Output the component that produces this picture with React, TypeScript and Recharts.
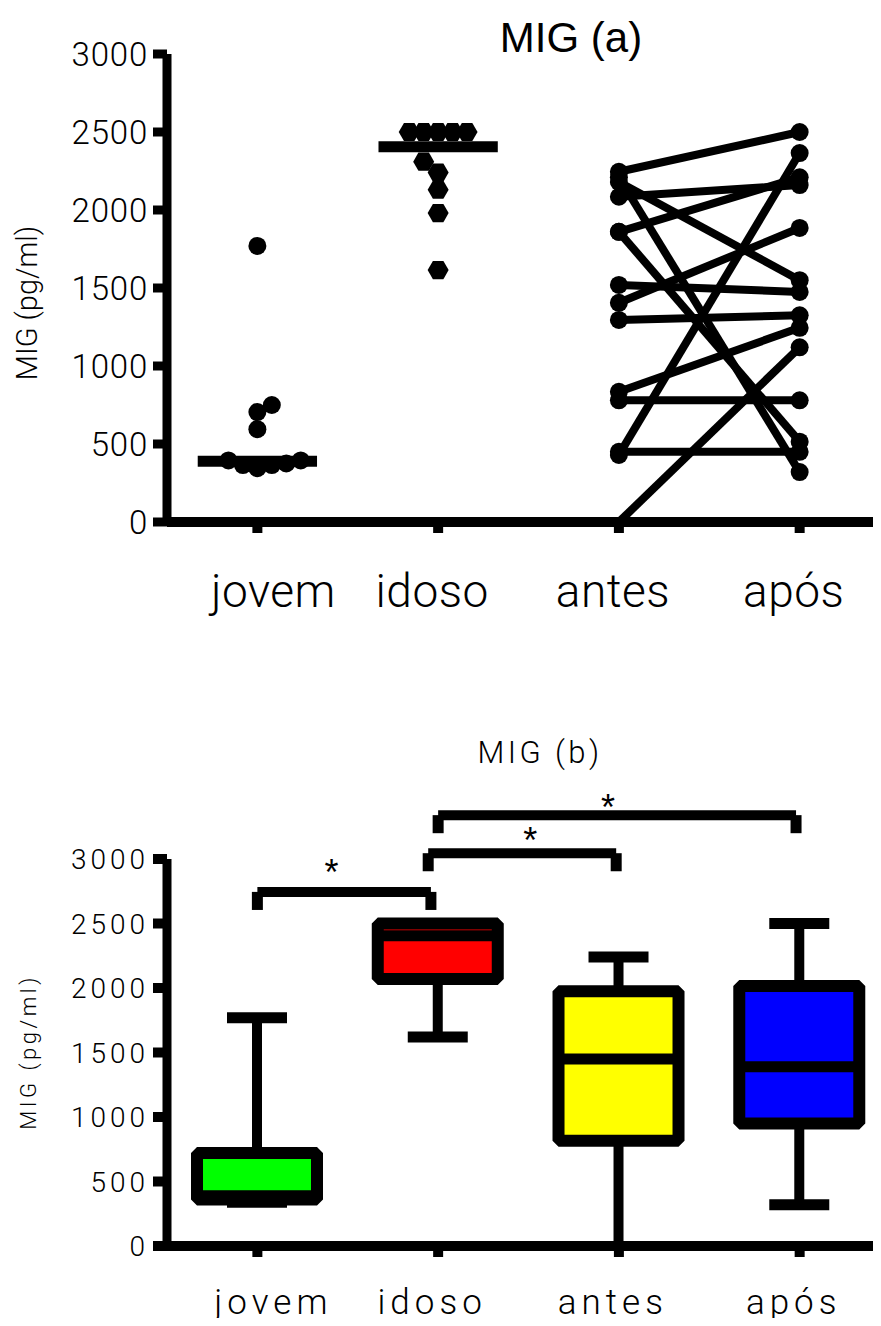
import {
  Bar,
  ComposedChart,
  ReferenceDot,
  ReferenceLine,
  Scatter,
  XAxis,
  YAxis,
} from "recharts";

const categories = ["jovem", "idoso", "antes", "após"];
const categoryX = [1, 2, 3, 4];
const yTicks = [0, 500, 1000, 1500, 2000, 2500, 3000];

// painel (a): pontos individuais
const jovemValues = [1770, 750, 705, 595, 395, 365, 345, 365, 375, 395];
const jovemSwarm = [0, 1, 0, 0, -2, -1, 0, 1, 2, 3];
const jovemMedian = 390;
const idosoValues = [2500, 2500, 2500, 2500, 2500, 2310, 2240, 2130, 1980, 1615];
const idosoSwarm = [-2, -1, 0, 1, 2, -1, 0, 0, 0, 0];
const idosoMedian = 2405;
// pares antes -> após
const antesValues = [2245, 2180, 2210, 2085, 1860, 1860, 1520, 1405, 1295, 835, 780, 450, 430, 0];
const aposValues = [2500, 1550, 320, 2160, 2210, 515, 1475, 1885, 1325, 1245, 780, 450, 2365, 1120];

// painel (b): box plots
const boxMin = [340, 1620, 0, 320];
const boxQ1 = [360, 2070, 815, 950];
const boxMedian = [390, 2405, 1450, 1390];
const boxQ3 = [720, 2500, 1975, 2015];
const boxMax = [1770, 2500, 2240, 2500];
const boxColors = ["#00ff00", "#ff0000", "#ffff00", "#0000ff"];

// comparações significativas
const bracketFrom = [1, 1.945, 2];
const bracketTo = [1.96, 2.985, 3.98];
const bracketLevel = [2745, 3045, 3340];
const bracketDrop = 140;
const starX = [1.41, 2.51, 2.94];
const starLevel = [2960, 3205, 3460];

const FONT = '"Liberation Sans", Arial, Helvetica, sans-serif';
const THIN = 'Roboto, "Liberation Sans", Arial, sans-serif';
const SWARM_STEP = 0.08;
const MEDIAN_HALF = 0.33;
const X_DOMAIN = [0.5, 4.45];
// the original labels sit a little off their ticks
const LABEL_NUDGE = [16, -6, -6, -6];

const jovemPoints = jovemValues.map((y, i) => ({ x: 1 + jovemSwarm[i] * SWARM_STEP, y }));
const idosoPoints = idosoValues.map((y, i) => ({ x: 2 + idosoSwarm[i] * SWARM_STEP, y }));
const pairs = antesValues.map((a, i) => [
  { x: 3, y: a },
  { x: 4, y: aposValues[i] },
]);

const boxData = categories.map((name, i) => ({
  name,
  x: categoryX[i],
  min: boxMin[i],
  q1: boxQ1[i],
  median: boxMedian[i],
  q3: boxQ3[i],
  max: boxMax[i],
  fill: boxColors[i],
}));

const CircleDot = (p: any) =>
  p.payload && p.payload.y <= 0 ? null : <circle cx={p.cx} cy={p.cy} r={9} fill="#000" />;

const HexDot = (p: any) => {
  const r = 10.5;
  const pts = [0, 1, 2, 3, 4, 5]
    .map((k) => {
      const a = (Math.PI / 3) * k;
      return `${p.cx + r * Math.cos(a)},${p.cy + r * Math.sin(a)}`;
    })
    .join(" ");
  return <polygon points={pts} fill="#000" />;
};

const BoxShape = (props: any) => {
  const { x, y, width, height, payload } = props;
  if (!payload) return null;
  const span = payload.max - payload.min;
  const py = (v: number) => y + (height * (payload.max - v)) / span;
  const cx = x + width / 2;
  const capHalf = width * 0.25;
  return (
    <g>
      <line x1={cx} x2={cx} y1={py(payload.max)} y2={py(payload.min)} stroke="#000" strokeWidth={10} />
      <line x1={cx - capHalf} x2={cx + capHalf} y1={py(payload.max)} y2={py(payload.max)} stroke="#000" strokeWidth={11} />
      {payload.min > 0 && (
        <line x1={cx - capHalf} x2={cx + capHalf} y1={py(payload.min)} y2={py(payload.min)} stroke="#000" strokeWidth={11} />
      )}
      <rect
        x={x}
        y={py(payload.q3)}
        width={width}
        height={py(payload.q1) - py(payload.q3)}
        fill={payload.fill}
        stroke="#000"
        strokeWidth={12}
        strokeLinejoin="bevel"
      />
      <line x1={x} x2={x + width} y1={py(payload.median)} y2={py(payload.median)} stroke="#000" strokeWidth={11} />
    </g>
  );
};

const makeYTick = (fontSize: number, spacing: number) => (p: any) => (
  <text
    x={p.x}
    y={p.y}
    dy={fontSize * 0.36}
    textAnchor="end"
    fontFamily={THIN}
    fontWeight={300}
    fontSize={fontSize}
    letterSpacing={spacing}
    fill="#000"
  >
    {p.payload.value}
  </text>
);

const makeXTick = (fontSize: number, spacing: number, dy: number) => (p: any) => {
  const i = categoryX.indexOf(p.payload.value);
  return (
    <text
      x={p.x + (LABEL_NUDGE[i] ?? 0)}
      y={p.y}
      dy={dy}
      textAnchor="middle"
      fontFamily={THIN}
      fontWeight={300}
      fontSize={fontSize}
      letterSpacing={spacing}
      fill="#000"
    >
      {categories[i] ?? ""}
    </text>
  );
};

const StarLabel = (p: any) => {
  const vb = p.viewBox || {};
  const cx = (vb.x ?? 0) + (vb.width ?? 0) / 2;
  const cy = (vb.y ?? 0) + (vb.height ?? 0) / 2;
  return (
    <text x={cx} y={cy} dy={36 * 0.57} textAnchor="middle" fontFamily={FONT} fontSize={36} fill="#000">
      *
    </text>
  );
};

function ChartA() {
  return (
    <ComposedChart width={881} height={660} margin={{ top: 54, right: 0, bottom: 38, left: 67 }}>
      <XAxis
        type="number"
        dataKey="x"
        domain={X_DOMAIN}
        ticks={categoryX}
        interval={0}
        height={100}
        axisLine={{ stroke: "#000", strokeWidth: 10 }}
        tickLine={{ stroke: "#000", strokeWidth: 10 }}
        tickSize={11}
        tickMargin={0}
        tick={makeXTick(46, 0.5, 74)}
      />
      <YAxis
        type="number"
        dataKey="y"
        domain={[0, 3000]}
        ticks={yTicks}
        interval={0}
        width={100}
        axisLine={{ stroke: "#000", strokeWidth: 9 }}
        tickLine={{ stroke: "#000", strokeWidth: 9 }}
        tickSize={14}
        tickMargin={5}
        tick={makeYTick(33, 0.8)}
      />
      {pairs.map((pair, i) => (
        <Scatter
          key={`pair-${i}`}
          data={pair}
          line={{ stroke: "#000", strokeWidth: 8 }}
          shape={CircleDot}
          isAnimationActive={false}
        />
      ))}
      <Scatter data={jovemPoints} shape={CircleDot} isAnimationActive={false} />
      <Scatter data={idosoPoints} shape={HexDot} isAnimationActive={false} />
      <ReferenceLine
        segment={[
          { x: 1 - MEDIAN_HALF, y: jovemMedian },
          { x: 1 + MEDIAN_HALF, y: jovemMedian },
        ]}
        stroke="#000"
        strokeWidth={11}
      />
      <ReferenceLine
        segment={[
          { x: 2 - MEDIAN_HALF, y: idosoMedian },
          { x: 2 + MEDIAN_HALF, y: idosoMedian },
        ]}
        stroke="#000"
        strokeWidth={11}
      />
      <text x={571} y={52} textAnchor="middle" fontFamily={FONT} fontSize={42} fill="#000">
        MIG (a)
      </text>
      <text
        x={37}
        y={303}
        transform="rotate(-90 37 303)"
        textAnchor="middle"
        fontFamily={THIN}
        fontWeight={300}
        fontSize={29}
        fill="#000"
      >
        MIG (pg/ml)
      </text>
    </ComposedChart>
  );
}

function ChartB() {
  return (
    <ComposedChart width={881} height={666} data={boxData} margin={{ top: 199, right: 0, bottom: 10, left: 67 }}>
      <XAxis
        type="number"
        dataKey="x"
        domain={X_DOMAIN}
        ticks={categoryX}
        interval={0}
        height={70}
        axisLine={{ stroke: "#000", strokeWidth: 10 }}
        tickLine={{ stroke: "#000", strokeWidth: 10 }}
        tickSize={11}
        tickMargin={0}
        tick={makeXTick(35, 5, 57)}
      />
      <YAxis
        type="number"
        domain={[0, 3000]}
        ticks={yTicks}
        interval={0}
        width={100}
        axisLine={{ stroke: "#000", strokeWidth: 9 }}
        tickLine={{ stroke: "#000", strokeWidth: 10 }}
        tickSize={14}
        tickMargin={4}
        tick={makeYTick(28, 4)}
      />
      <Bar
        dataKey={(d: any) => [d.min, d.max]}
        barSize={120}
        shape={(p: any) => <BoxShape {...p} />}
        isAnimationActive={false}
      />
      {bracketFrom.map((from, i) => (
        <ReferenceLine
          key={`bh-${i}`}
          segment={[
            { x: from, y: bracketLevel[i] },
            { x: bracketTo[i], y: bracketLevel[i] },
          ]}
          stroke="#000"
          strokeWidth={10}
          ifOverflow="visible"
        />
      ))}
      {bracketFrom.map((from, i) => (
        <ReferenceLine
          key={`bl-${i}`}
          segment={[
            { x: from, y: bracketLevel[i] },
            { x: from, y: bracketLevel[i] - bracketDrop },
          ]}
          stroke="#000"
          strokeWidth={11}
          ifOverflow="visible"
        />
      ))}
      {bracketTo.map((to, i) => (
        <ReferenceLine
          key={`br-${i}`}
          segment={[
            { x: to, y: bracketLevel[i] },
            { x: to, y: bracketLevel[i] - bracketDrop },
          ]}
          stroke="#000"
          strokeWidth={11}
          ifOverflow="visible"
        />
      ))}
      {starX.map((sx, i) => (
        <ReferenceDot
          key={`star-${i}`}
          x={sx}
          y={starLevel[i]}
          r={0}
          fill="none"
          stroke="none"
          ifOverflow="visible"
          label={<StarLabel />}
        />
      ))}
      <text
        x={540}
        y={103}
        textAnchor="middle"
        fontFamily={THIN}
        fontWeight={300}
        fontSize={31}
        letterSpacing={3.4}
        fill="#000"
      >
        MIG (b)
      </text>
      <text
        x={36}
        y={392}
        transform="rotate(-90 36 392)"
        textAnchor="middle"
        fontFamily={THIN}
        fontWeight={300}
        fontSize={22}
        letterSpacing={3.5}
        fill="#000"
      >
        MIG (pg/ml)
      </text>
    </ComposedChart>
  );
}

export default function App() {
  return (
    <div style={{ width: 881, height: 1326, margin: "-8px 0 -8px -8px", background: "#fff", overflow: "hidden" }}>
      <ChartA />
      <ChartB />
    </div>
  );
}
